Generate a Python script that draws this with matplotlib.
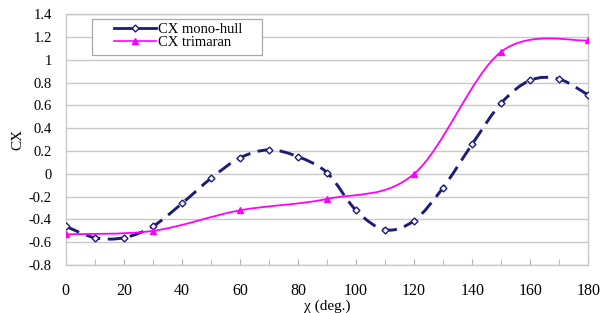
import matplotlib
matplotlib.use('Agg')
import matplotlib.pyplot as plt
import numpy as np
from matplotlib.path import Path
from matplotlib.patches import PathPatch, Rectangle
from matplotlib.lines import Line2D

# Heading angle (deg) and CX values
chi_mono = [0, 10, 20, 30, 40, 50, 60, 70, 80, 90, 100, 110, 120, 130, 140, 150, 160, 170, 180]
cx_mono = [-0.46, -0.56, -0.56, -0.46, -0.26, -0.04, 0.14, 0.21, 0.15, 0.01,
           -0.32, -0.49, -0.41, -0.12, 0.26, 0.62, 0.82, 0.83, 0.69]

chi_tri = [0, 30, 60, 90, 120, 150, 180]
cx_tri = [-0.53, -0.50, -0.32, -0.22, 0.0, 1.07, 1.17]

x_ticks = [0, 20, 40, 60, 80, 100, 120, 140, 160, 180]
y_ticks = [-0.8, -0.6, -0.4, -0.2, 0, 0.2, 0.4, 0.6, 0.8, 1, 1.2, 1.4]
y_labels = ['-0.8', '-0.6', '-0.4', '-0.2', '0', '0.2', '0.4', '0.6', '0.8', '1', '1.2', '1.4']

plt.rcParams['font.family'] = ['Liberation Serif', 'DejaVu Serif']


def smooth_path(x, y):
    # Excel-style smoothed line: cubic Bezier between the data points
    pts = np.column_stack([x, y]).astype(float)
    n = len(pts)
    verts = [pts[0]]
    codes = [Path.MOVETO]
    for i in range(n - 1):
        p0 = pts[max(i - 1, 0)]
        p1 = pts[i]
        p2 = pts[i + 1]
        p3 = pts[min(i + 2, n - 1)]
        c1 = p1 + (p2 - p0) / 6.0
        c2 = p2 - (p3 - p1) / 6.0
        verts += [c1, c2, p2]
        codes += [Path.CURVE4] * 3
    return Path(verts, codes)


fig = plt.figure(figsize=(6.09, 3.13), dpi=100)
ax = fig.add_axes([0.108, 0.153, 0.858, 0.802])

navy = '#1c1c78'
magenta = '#ff00ff'

ax.add_patch(PathPatch(smooth_path(chi_mono, cx_mono), facecolor='none', edgecolor=navy,
                       linewidth=2.1, linestyle=(0, (5, 2.6)), zorder=3))
ax.plot(chi_mono, cx_mono, linestyle='none', marker='D', markersize=3.5,
        markerfacecolor='white', markeredgecolor=navy, markeredgewidth=1.0, zorder=4)

ax.add_patch(PathPatch(smooth_path(chi_tri, cx_tri), facecolor='none', edgecolor=magenta,
                       linewidth=1.3, zorder=3))
ax.plot(chi_tri, cx_tri, linestyle='none', marker='^', markersize=5,
        color=magenta, zorder=4)

ax.set_xlim(0, 180)
ax.set_ylim(-0.8, 1.4)
ax.set_xticks(x_ticks)
ax.set_xticks(np.arange(0, 181, 10), minor=True)
ax.set_yticks(y_ticks)
ax.set_yticklabels(y_labels)

ax.grid(axis='y', color='#c8c8c8', linewidth=1.0)
ax.set_axisbelow(True)
for s in ax.spines.values():
    s.set_color('#c8c8c8')
    s.set_linewidth(1.0)

ax.tick_params(axis='x', which='both', direction='in', length=4, color='#b0b0b0',
               labelsize=11.5, pad=13)
ax.tick_params(axis='y', which='both', length=0, labelsize=10.5, pad=10)

ax.set_xlabel('χ (deg.)', fontsize=11, labelpad=0)
ax.set_ylabel('CX', fontsize=11, labelpad=3)

# legend: frame drawn separately to get the wide side padding
ax.add_patch(Rectangle((0.05, 0.837), 0.326, 0.143, transform=ax.transAxes,
                       facecolor='white', edgecolor='#a8a8a8', linewidth=0.9, zorder=5))
handles = [
    Line2D([], [], color=navy, linewidth=2.0, marker='D', markersize=3.5,
           markerfacecolor='white', markeredgecolor=navy),
    Line2D([], [], color=magenta, linewidth=1.2, marker='^', markersize=5),
]
leg = ax.legend(handles, ['CX mono-hull', 'CX trimaran'], loc='upper left',
                bbox_to_anchor=(0.092, 0.965), fontsize=10.5, frameon=False,
                handlelength=2.9, handletextpad=0.1, labelspacing=0.0,
                borderpad=0, borderaxespad=0)
leg.set_zorder(6)

fig.savefig('out.png', dpi=100)
